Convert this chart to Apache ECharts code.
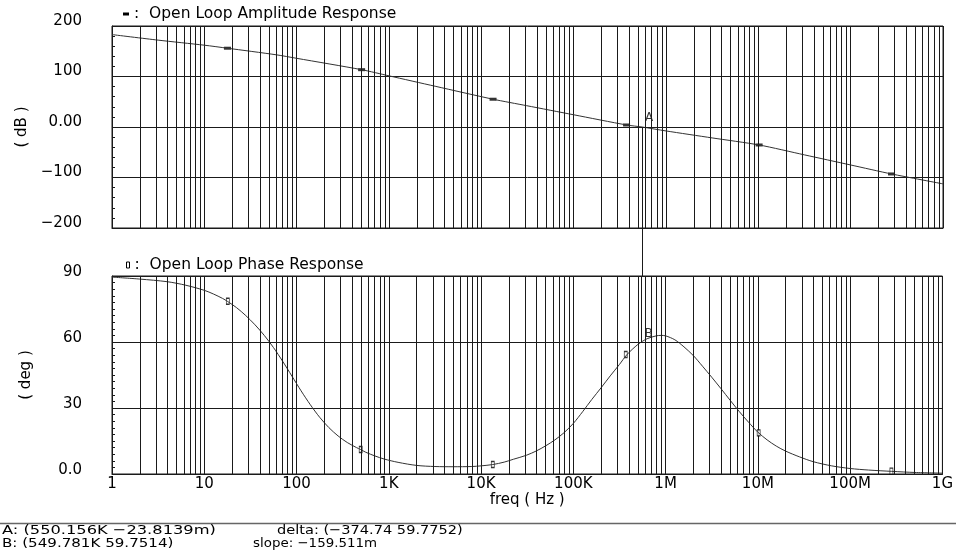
<!DOCTYPE html>
<html><head><meta charset="utf-8">
<script src="https://cdn.jsdelivr.net/npm/echarts@6/dist/echarts.min.js"></script>
<style>html,body{margin:0;padding:0;background:#fff}#c{width:956px;height:560px}</style>
</head><body><div id="c"></div>
<script>
// ---- tick labels ----
const xTickLabels = ['1','10','100','1K','10K','100K','1M','10M','100M','1G'];
const ampTickValues = [-200, -100, 0, 100, 200];
const ampTickLabels = ['−200', '−100', '0.00', '100', '200'];
const phaseTickValues = [0, 30, 60, 90];
const phaseTickLabels = ['0.0', '30', '60', '90'];

// ---- amplitude curve (Hz, dB) ----
const ampFreq = [1, 3.16, 10, 17.8, 60, 100, 505, 1000, 3160, 13400, 31000, 100000, 374000, 550156, 1e6, 3.16e6, 1.02e7, 3.16e7, 1e8, 2.77e8, 1e9];
const ampDb   = [183, 172, 162, 156, 143, 136, 113.5, 101.3, 80.7, 55, 42.2, 24.2, 4, 0, -7.8, -21.6, -35.6, -55.2, -75.2, -93, -112.6];

// ---- phase curve (Hz, deg) ----
const phaseFreq = [1, 2, 3.98, 6.31, 10, 12.6, 15.8, 17.8, 22.4, 28.2, 35.5, 44.7, 56.2, 70.8, 89.1, 112, 141, 178, 224, 282, 355, 447, 496, 562, 708, 891, 1260, 2000, 3160, 5010, 7940, 10000, 13400, 17800, 22400, 30900, 39800, 50100, 63100, 79400, 100000, 126000, 158000, 200000, 251000, 316000, 380000, 501000, 631000, 794000, 891000, 1e6, 1.26e6, 1.58e6, 2e6, 2.51e6, 3.16e6, 3.98e6, 5.01e6, 6.31e6, 7.94e6, 1e7, 1.26e7, 1.58e7, 2e7, 2.82e7, 3.98e7, 6.31e7, 1e8, 1.58e8, 2.82e8, 5.01e8, 1e9];
const phaseDeg  = [89.5, 88.6, 87.4, 85.8, 83.5, 81.8, 79.8, 78.5, 75.6, 72.0, 67.8, 63.0, 57.5, 51.2, 44.5, 37.8, 31.5, 25.8, 21.1, 17.3, 14.3, 12.0, 11.1, 9.9, 8.2, 6.8, 5.3, 3.9, 3.4, 3.3, 3.4, 3.7, 4.3, 5.4, 6.7, 8.5, 10.5, 12.8, 15.5, 18.8, 23.0, 28.3, 33.8, 39.2, 44.6, 49.8, 54.2, 58.9, 61.5, 62.8, 63.0, 62.8, 61.0, 57.8, 53.8, 49.0, 44.0, 38.8, 33.5, 28.3, 23.5, 19.0, 15.5, 12.7, 10.4, 7.8, 5.6, 3.7, 2.5, 1.8, 1.2, 0.7, 0.4];

// ---- curve symbols ----
const ampMarkFreq = [17.8, 505, 13400, 374000, 1.02e7, 2.77e8];
const ampMarkDb   = [156, 113.5, 55, 4, -35.6, -93];
const phaseMarkFreq = [18, 496, 13400, 370000, 1.02e7, 2.8e8];
const phaseMarkDeg  = [78.5, 11.1, 4.3, 54.3, 18.7, 1.3];

// ---- cursors ----
const cursorA = [550156, -0.0238139];
const cursorB = [549781, 59.7514];

const zip = (a, b) => a.map((v, i) => [v, b[i]]);
const FONT = 'DejaVu Sans';
const INK = '#1a1a1a';

const minorGrid = [];
for (let d = 0; d < 9; d++) for (let m = 2; m <= 9; m++) minorGrid.push({ xAxis: m * Math.pow(10, d) });

function xAxisCfg(gi, showLabels, visible) {
  return {
    type: 'log', logBase: 10, min: 1, max: 1e9, gridIndex: gi, show: visible,
    axisLine: { show: true, onZero: false, lineStyle: { color: INK, width: 1 } },
    axisTick: { show: false },
    splitLine: { show: true, lineStyle: { color: INK, width: 1 } },
    axisLabel: {
      show: showLabels, margin: 3, color: '#000', fontFamily: FONT, fontSize: 15,
      showMinLabel: true, showMaxLabel: true,
      formatter: v => xTickLabels[Math.round(Math.log10(v))]
    },
    name: showLabels ? 'freq ( Hz )' : '', nameLocation: 'middle', nameGap: 18,
    nameTextStyle: { color: '#000', fontFamily: FONT, fontSize: 15 }
  };
}

function yAxisCfg(gi, min, max, interval, minorSplit, values, labels, name, lh) {
  return {
    type: 'value', gridIndex: gi, min, max, interval,
    axisLine: { show: true, lineStyle: { color: INK } },
    axisTick: { show: true, inside: true, length: 3, lineStyle: { color: INK } },
    minorTick: { show: true, splitNumber: minorSplit, length: 3, lineStyle: { color: INK } },
    splitLine: { show: true, lineStyle: { color: INK, width: 1 } },
    axisLabel: {
      margin: 30, color: '#000', fontFamily: FONT, fontSize: 15, verticalAlign: 'bottom', lineHeight: lh,
      formatter: v => { const i = values.indexOf(v); return i >= 0 ? labels[i] : ''; }
    },
    name, nameLocation: 'middle', nameGap: 78, nameRotate: 90,
    nameTextStyle: { color: '#000', fontFamily: FONT, fontSize: 15 }
  };
}

const mlCommon = { silent: true, symbol: ['none', 'none'], label: { show: false }, animation: false };

const option = {
  animation: false,
  backgroundColor: '#fff',
  grid: [
    { left: 112, right: 13, top: 26, height: 202, show: true, borderColor: INK, borderWidth: 1 },
    { left: 112, right: 13, top: 228, height: 48 },
    { left: 112, right: 13, top: 276, height: 198, show: true, borderColor: INK, borderWidth: 1 }
  ],
  xAxis: [xAxisCfg(0, false, true), xAxisCfg(1, false, false), xAxisCfg(2, true, true)],
  yAxis: [
    yAxisCfg(0, -200, 200, 100, 5, ampTickValues, ampTickLabels, '( dB )', 10),
    { type: 'value', gridIndex: 1, min: 0, max: 1, show: false },
    yAxisCfg(2, 0, 90, 30, 10, phaseTickValues, phaseTickLabels, '( deg )', 7)
  ],
  legend: [
    { left: 118, top: 1, selectedMode: false, itemWidth: 6, itemHeight: 3, formatter: ':  {name}',
      textStyle: { color: '#000', fontFamily: FONT, fontSize: 15.5 },
      data: [{ name: 'Open Loop Amplitude Response', icon: 'rect', itemStyle: { color: '#000', borderWidth: 0 } }] },
    { left: 121, top: 252, selectedMode: false, itemWidth: 3, itemHeight: 6, formatter: ':  {name}',
      textStyle: { color: '#000', fontFamily: FONT, fontSize: 15.5 },
      data: [{ name: 'Open Loop Phase Response', icon: 'rect', itemStyle: { color: '#fff', borderColor: '#000', borderWidth: 1 } }] }
  ],
  series: [
    { name: 'Open Loop Amplitude Response', type: 'line', xAxisIndex: 0, yAxisIndex: 0,
      data: zip(ampFreq, ampDb), showSymbol: false, smooth: 0.25,
      lineStyle: { color: '#333', width: 1 }, itemStyle: { color: '#333' },
      markLine: Object.assign({}, mlCommon, {
        lineStyle: { color: INK, type: 'solid', width: 1 },
        data: minorGrid.concat([
          { yAxis: cursorA[1] },
          [{ coord: [cursorA[0], cursorA[1]] }, { coord: [cursorA[0], -200] }]
        ])
      }) },
    { type: 'scatter', xAxisIndex: 0, yAxisIndex: 0, data: zip(ampMarkFreq, ampMarkDb),
      symbol: 'rect', symbolSize: [7, 3], itemStyle: { color: '#000' }, silent: true },
    { type: 'scatter', xAxisIndex: 0, yAxisIndex: 0, data: [cursorA], symbolSize: 0, silent: true,
      label: { show: true, formatter: 'A', position: 'inside', offset: [7, -9], color: '#000', fontFamily: FONT, fontSize: 12 } },
    { type: 'line', xAxisIndex: 1, yAxisIndex: 1, data: [], silent: true,
      markLine: Object.assign({}, mlCommon, { lineStyle: { color: INK, type: 'solid', width: 1 }, data: [{ xAxis: cursorA[0] }] }) },
    { name: 'Open Loop Phase Response', type: 'line', xAxisIndex: 2, yAxisIndex: 2,
      data: zip(phaseFreq, phaseDeg), showSymbol: false, smooth: 0.3,
      lineStyle: { color: '#333', width: 1 }, itemStyle: { color: '#333' },
      markLine: Object.assign({}, mlCommon, {
        lineStyle: { color: INK, type: 'solid', width: 1 },
        data: minorGrid.concat([
          { yAxis: cursorB[1] },
          [{ coord: [cursorB[0], 90] }, { coord: [cursorB[0], cursorB[1]] }]
        ])
      }) },
    { type: 'scatter', xAxisIndex: 2, yAxisIndex: 2, data: zip(phaseMarkFreq, phaseMarkDeg),
      symbol: 'rect', symbolSize: [3, 6], itemStyle: { color: '#fff', borderColor: '#000', borderWidth: 1 }, silent: true },
    { type: 'scatter', xAxisIndex: 2, yAxisIndex: 2, data: [cursorB], symbolSize: 0, silent: true,
      label: { show: true, formatter: 'B', position: 'inside', offset: [7, -9], color: '#000', fontFamily: FONT, fontSize: 12 } }
  ],
  graphic: [
    { type: 'line', shape: { x1: 0, y1: 523.5, x2: 956, y2: 523.5 }, style: { stroke: '#666', lineWidth: 1.5 }, silent: true },
    { type: 'text', x: 2, y: 531, scaleX: 1.25, style: { text: 'A: (550.156K −23.8139m)', font: '13px "DejaVu Sans"', fill: '#000', verticalAlign: 'middle' } },
    { type: 'text', x: 2, y: 544, scaleX: 1.16, style: { text: 'B: (549.781K 59.7514)', font: '13px "DejaVu Sans"', fill: '#000', verticalAlign: 'middle' } },
    { type: 'text', x: 277, y: 531, scaleX: 1.12, style: { text: 'delta: (−374.74 59.7752)', font: '13px "DejaVu Sans"', fill: '#000', verticalAlign: 'middle' } },
    { type: 'text', x: 253, y: 544, scaleX: 1.03, style: { text: 'slope: −159.511m', font: '13px "DejaVu Sans"', fill: '#000', verticalAlign: 'middle' } }
  ]
};

const chart = echarts.init(document.getElementById('c'), null, { renderer: 'canvas' });
chart.setOption(option);
</script>
</body></html>
